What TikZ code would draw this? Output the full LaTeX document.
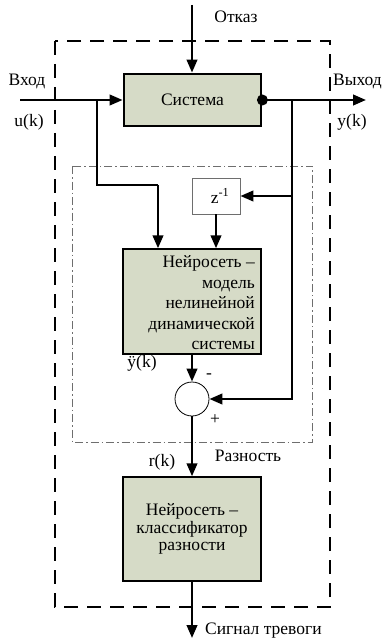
\documentclass[tikz,border=0pt]{standalone}
\usepackage{fontspec}
\setmainfont{Liberation Serif}
\usetikzlibrary{arrows.meta}

\definecolor{boxgreen}{RGB}{214,219,199}
\definecolor{framegray}{RGB}{110,110,110}

\tikzset{
	block/.style={draw, fill=boxgreen, line width=1.4pt, minimum width=138pt},
	sig/.style={line width=2.5pt, -{Triangle[length=13pt,width=10.5pt]}},
	wire/.style={line width=2.5pt},
	lbl/.style={font=\fontsize{17.5}{20}\selectfont, inner sep=0pt}
}

\begin{document}
\begin{tikzpicture}[x=1pt, y=-1pt]
\useasboundingbox (0,0) rectangle (384,639);

	% --- frames
	\draw[line width=1.3pt, dash pattern=on 14pt off 9pt] (55,41) rectangle (330,607);
	\draw[framegray, line width=0.8pt, dash pattern=on 8pt off 3pt on 1.5pt off 3pt]
		(72,166) rectangle (312,442);

	% --- blocks
	\node[block, line width=2.8pt, minimum width=137pt, minimum height=52pt, lbl] (sys)
		at (192.5,100) {Система};
	\node[draw=framegray, fill=white, line width=0.8pt, minimum width=48pt, minimum height=36pt] (zd)
		at (216,196) {};
	\node[lbl] at (220,196) {z\textsuperscript{-1}};
	\node[block, minimum height=105pt] (nn) at (192,301.5) {};
	\node[lbl, anchor=east, align=right, font=\fontsize{17.5}{20.5}\selectfont] (nntext)
		at (255,303) {Нейросеть –\\модель\\нелинейной\\динамической\\системы};
	\node[block, minimum height=104pt, lbl, align=center, font=\fontsize{17.5}{17.8}\selectfont] (clf)
		at (192,529) {Нейросеть –\\классификатор\\разности};
	\node[draw, fill=white, circle, line width=0.8pt, minimum size=34pt, inner sep=0pt] (sum)
		at (192,399) {};

	% --- free ends and branch points
	\coordinate (in) at (20,100);
	\coordinate (out) at (366,100);
	\coordinate (fault) at (192,5);
	\coordinate (alarm) at (192,638);
	\coordinate (bl) at (97,100);
	\coordinate (br) at (292,100);
	\coordinate (lk) at (158,185);

	% --- signals
	\draw[sig] (fault) -- (fault |- sys.north);
	\draw[sig] (in) -- (sys.west);
	\draw[sig] (sys.east) -- (out);
	\fill (sys.east) circle(5.5);
	\draw[wire] (bl) |- (lk);
	\draw[sig] (lk) -- (lk |- nn.north);
	\draw[sig] (br) |- (sum.east);
	\draw[sig] (br |- zd.east) -- (zd.east);
	\draw[sig] (zd.south) -- (zd.south |- nn.north);
	\draw[sig] (nn.south) -- (sum.north);
	\draw[sig] (sum.south) -- (clf.north);
	\draw[sig] (clf.south) -- (alarm);

	% --- labels
	\node[lbl] (lfault) at (236,17) {Отказ};
	\node[lbl] (lin) at (27,81) {Вход};
	\node[lbl] (lu) at (29,122) {u(k)};
	\node[lbl, anchor=west] (lout) at (333,81) {Выход};
	\node[lbl] (ly) at (352,122) {y(k)};
	\node[lbl] (lyhat) at (142,363) {ÿ(k)};
	\node[lbl] (lminus) at (209,376) {-};
	\node[lbl] (lplus) at (215,420) {+};
	\node[lbl] (lr) at (162,462) {r(k)};
	\node[lbl] (ldiff) at (248,456) {Разность};
	\node[lbl, anchor=west] (lalarm) at (205,631) {Сигнал тревоги};
\end{tikzpicture}
\end{document}
